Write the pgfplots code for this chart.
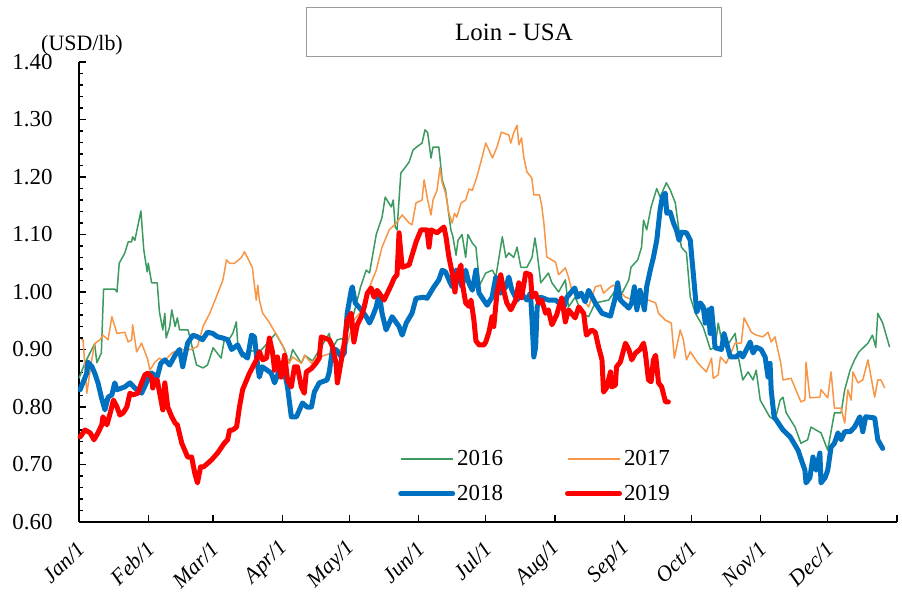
\documentclass[border=0pt]{standalone}
\usepackage{pgfplots}
\pgfplotsset{compat=1.18}
\usepackage{fontspec}
\setmainfont{Liberation Serif}
\definecolor{c16}{RGB}{60,154,96}
\definecolor{c17}{RGB}{247,150,70}
\definecolor{c18}{RGB}{0,112,192}
\definecolor{c19}{RGB}{255,0,0}
\begin{document}
\begin{tikzpicture}
\useasboundingbox (-79bp,-87bp) rectangle (823bp,522bp);
\begin{axis}[
  at={(0,0)}, anchor=south west,
  scale only axis, width=818bp, height=460bp,
  xmin=0, xmax=366, ymin=0.6, ymax=1.4,
  axis x line*=bottom, axis y line*=left,
  axis line style={line width=1.5bp, black},
  xtick={0,31,60,91,121,152,182,213,244,274,305,335,366},
  xticklabels={Jan/1,Feb/1,Mar/1,Apr/1,May/1,Jun/1,Jul/1,Aug/1,Sep/1,Oct/1,Nov/1,Dec/1,},
  ytick={0.6,0.7,0.8,0.9,1.0,1.1,1.2,1.3,1.4},
  yticklabels={0.60,0.70,0.80,0.90,1.00,1.10,1.20,1.30,1.40},
  minor y tick num=4,
  tick align=inside,
  major tick length=7bp, minor tick length=4bp,
  every tick/.style={black, line width=1.2bp},
  yticklabel style={font=\fontsize{23}{26}\selectfont, xshift=-23bp},
  xticklabel style={font=\itshape\fontsize{22}{26}\selectfont, rotate=45, anchor=east, xshift=-11.4bp, yshift=-18bp},
  legend columns=2,
  legend cell align=left,
  legend style={draw=none, fill=none, at={(0.39,0.16)}, anchor=north west,
    font=\fontsize{23}{26}\selectfont, inner sep=0pt, row sep=14bp,
    /tikz/every even column/.append style={column sep=60bp}},
  legend image code/.code={\draw[#1] (0bp,0bp) -- (52bp,0bp);},
  clip=false,
]
\addplot[c16, line width=1.5bp, line join=round] coordinates {
(0,0.850)(2.7,0.877)(7,0.910)(8,0.877)(10,0.894)(11,1.005)(16,1.005)(17,1.000)(18,1.050)(20.5,1.068)(22,1.087)(23.5,1.087)(24,1.096)(25,1.090)(27.7,1.141)(29,1.073)(30.5,1.035)(31,1.050)(32.5,1.016)(35,1.016)(36,0.965)(37.5,0.934)(38.4,0.963)(39,0.920)(40.6,0.940)(41.5,0.969)(43,0.940)(44,0.955)(45,0.934)(48.8,0.934)(52.6,0.873)(55.5,0.868)(57.5,0.873)(60,0.903)(63.6,0.885)(65,0.917)(67,0.917)(68.8,0.928)(70.4,0.948)(71,0.911)(72.7,0.887)(76.3,0.897)(81.6,0.899)(88,0.928)(92,0.900)(94,0.876)(95.6,0.900)(99.5,0.876)(101,0.890)(104.5,0.880)(112,0.928)(113,0.900)(115.6,0.917)(119,0.920)(121,0.940)(123,0.963)(126,1.009)(128.5,1.038)(130,1.033)(133,1.100)(135.6,1.130)(137,1.165)(139.7,1.148)(140.6,1.160)(141.5,1.113)(142.3,1.108)(144,1.207)(146,1.217)(147.7,1.226)(149.5,1.247)(151,1.252)(153.5,1.259)(154.8,1.282)(156,1.277)(157.5,1.233)(158.4,1.252)(161,1.252)(162.5,1.195)(164,1.177)(166.4,1.108)(167.3,1.096)(168.7,1.064)(169.6,1.090)(171.4,1.100)(173,1.060)(174,1.100)(176,1.085)(177.6,1.078)(179.3,1.012)(182,1.033)(185,1.038)(186.5,1.026)(189.4,1.096)(191,1.060)(192.3,1.068)(194.5,1.060)(196,1.078)(197.7,1.043)(200.4,1.043)(202.7,1.060)(204,1.094)(205,1.068)(206.6,1.016)(210,1.033)(211.6,1.016)(214.6,1.000)(217.6,1.021)(219,0.974)(222,0.991)(225,0.963)(228,0.957)(231,0.981)(237,0.986)(240,1.003)(243,0.998)(246,1.021)(247,1.043)(250,1.056)(251.7,1.078)(252.6,1.125)(254,1.108)(256,1.148)(258.5,1.180)(260,1.165)(262.8,1.190)(264.6,1.177)(266.8,1.155)(268,1.120)(269.5,1.078)(271.8,1.068)(273.5,0.991)(275.8,0.963)(279.3,0.939)(280.7,0.922)(282.5,0.900)(284.6,0.904)(286,0.946)(287.5,0.917)(289.6,0.904)(293.6,0.928)(295,0.887)(297,0.847)(299.4,0.861)(301.6,0.847)(303,0.864)(304.8,0.812)(309,0.783)(311.4,0.777)(313.7,0.812)(315,0.817)(316.4,0.790)(320.4,0.765)(323,0.737)(326,0.743)(327.5,0.765)(332,0.755)(335,0.725)(338,0.790)(341,0.790)(342.6,0.830)(345,0.864)(347,0.882)(349,0.896)(353,0.911)(355,0.925)(356.5,0.904)(357.4,0.963)(359.6,0.946)(362.7,0.904)
};
\addlegendentry{2016}
\addplot[c17, line width=1.5bp, line join=round] coordinates {
(1,0.917)(1.8,0.917)(3.5,0.824)(5.7,0.882)(7,0.910)(9.4,0.917)(10.7,0.925)(13,0.917)(14.7,0.957)(17,0.928)(20.5,0.930)(22,0.913)(23.6,0.917)(24,0.943)(25.8,0.896)(28,0.911)(29.5,0.896)(30.8,0.882)(31.7,0.864)(34,0.878)(36,0.885)(38,0.880)(42,0.895)(46,0.900)(50,0.900)(53,0.905)(55.5,0.940)(58.5,0.963)(61.4,0.991)(64.4,1.021)(66,1.056)(67.4,1.050)(69.6,1.050)(72.7,1.060)(74,1.070)(75.5,1.059)(77.6,1.042)(78.5,1.012)(79.3,0.986)(80,1.012)(80.7,0.986)(82.2,0.963)(85,0.948)(88,0.928)(91,0.908)(94,0.876)(95.6,0.887)(99.5,0.876)(101,0.890)(104,0.876)(106,0.885)(110,0.890)(114,0.895)(117,0.900)(120,0.910)(123,0.951)(126,0.965)(128.5,0.974)(130,1.009)(133,1.038)(135.6,1.078)(138.8,1.108)(142,1.120)(144.6,1.134)(147.7,1.120)(149,1.117)(150.8,1.155)(153.5,1.160)(154.4,1.195)(156,1.160)(157.5,1.134)(158.4,1.160)(160.2,1.177)(161.5,1.216)(162.5,1.190)(164,1.172)(165.5,1.137)(167,1.120)(168,1.137)(169,1.130)(171,1.155)(173,1.160)(174.5,1.179)(176,1.177)(178,1.200)(179.8,1.226)(182,1.259)(183.4,1.247)(185,1.233)(187,1.252)(189,1.278)(192.3,1.273)(193.2,1.259)(194.5,1.277)(196,1.290)(196.8,1.256)(198,1.268)(199,1.235)(200.4,1.209)(202.6,1.198)(203.5,1.169)(206,1.169)(207,1.151)(208,1.120)(209.3,1.061)(213.2,1.052)(214.6,1.030)(217.6,1.042)(219,1.026)(220.5,1.003)(223.6,1.000)(228,0.974)(231,1.009)(233.4,1.012)(234.7,0.998)(237.8,1.009)(239.2,1.012)(244.5,0.991)(249,0.985)(254.8,0.986)(258,0.981)(259.3,0.963)(262.4,0.951)(265,0.946)(266.4,0.885)(269,0.934)(270.4,0.917)(271.8,0.882)(273.5,0.896)(277,0.876)(280.7,0.861)(283,0.885)(283.8,0.850)(286,0.856)(287,0.887)(289.6,0.876)(293.6,0.911)(296.3,0.911)(297.6,0.955)(300.8,0.930)(303,0.925)(306,0.922)(308.3,0.930)(309.7,0.913)(311.4,0.922)(314,0.876)(315,0.847)(318.6,0.850)(320.4,0.833)(323,0.809)(324.8,0.812)(325.3,0.878)(327,0.816)(331.5,0.817)(332,0.830)(335,0.816)(336.5,0.861)(338,0.798)(341,0.798)(342.6,0.772)(344,0.830)(345.5,0.812)(346.3,0.861)(348.5,0.842)(350.7,0.847)(353,0.882)(356,0.817)(357.4,0.847)(358.8,0.847)(360.5,0.833)
};
\addlegendentry{2017}
\addplot[c18, line width=5bp, line join=round, line cap=round] coordinates {
(0.5,0.830)(3.5,0.859)(4,0.878)(5.8,0.870)(7,0.859)(8.5,0.842)(10,0.817)(11.6,0.795)(13,0.817)(14.7,0.821)(16,0.842)(17,0.830)(20.5,0.835)(22.8,0.842)(25,0.833)(28,0.824)(30.5,0.845)(32.5,0.859)(35,0.852)(36.6,0.876)(38.4,0.882)(40.6,0.873)(43,0.890)(45,0.900)(46.4,0.870)(48.6,0.911)(51,0.925)(53,0.922)(55.3,0.917)(57.5,0.930)(59.8,0.928)(62,0.922)(64.3,0.920)(66.5,0.917)(68.3,0.900)(71,0.908)(72.7,0.894)(75.4,0.885)(77.2,0.925)(78.5,0.922)(80,0.870)(80.7,0.852)(82,0.870)(86,0.859)(87.5,0.842)(89.7,0.864)(92,0.859)(93.3,0.835)(95,0.783)(97.3,0.783)(100,0.807)(102,0.800)(104,0.800)(105.3,0.826)(107.5,0.842)(111,0.847)(112,0.861)(113.4,0.900)(115,0.900)(117.4,0.887)(118.7,0.894)(120,0.963)(121.8,1.003)(122.3,1.009)(123.6,0.981)(126.3,0.969)(128.5,0.957)(130,0.946)(131.3,0.957)(133,0.974)(134.3,0.998)(135.6,0.963)(137.4,0.934)(140.1,0.957)(143.2,0.940)(144.6,0.925)(146.4,0.946)(149,0.963)(150.8,0.989)(154.4,0.991)(155.7,0.989)(158.8,1.009)(161,1.021)(162.5,1.038)(164,1.035)(165.5,1.021)(167,1.009)(168.7,1.038)(170,1.026)(171.4,1.009)(173,1.038)(174.5,1.015)(176,1.003)(177.6,1.038)(179,0.998)(182.6,0.977)(184.8,0.991)(186.5,1.026)(188.7,0.998)(191,1.009)(192.3,1.026)(193.7,1.003)(196,0.986)(197.7,0.998)(200.4,0.986)(202,0.998)(202.7,0.951)(203.5,0.887)(204.3,0.904)(205,0.974)(206.6,0.991)(210,0.986)(213.2,0.986)(217,0.974)(218.3,0.991)(221.8,1.007)(223,0.991)(224.7,0.998)(226.5,0.983)(228,1.003)(231,0.981)(234,0.963)(237.8,0.958)(240,0.991)(241,1.016)(242.2,0.986)(246,0.972)(247.3,0.981)(248.5,1.009)(249.6,0.969)(251,1.003)(253,0.969)(254,1.009)(255.6,1.038)(257,1.060)(258.5,1.090)(260,1.143)(261,1.165)(262.3,1.172)(263,1.137)(264.5,1.139)(266,1.120)(267.3,1.108)(268.5,1.090)(269.6,1.104)(271.8,1.103)(273.5,1.090)(274,1.068)(275,1.026)(275.8,0.991)(276.4,0.965)(278,0.981)(279.3,0.974)(280.2,0.946)(281.6,0.969)(282.4,0.928)(283,0.972)(284.6,0.903)(287.5,0.900)(288.6,0.928)(291.4,0.887)(294,0.887)(295.8,0.894)(297,0.887)(300.3,0.913)(301.6,0.894)(303,0.904)(305.2,0.900)(307,0.887)(308.3,0.852)(309.2,0.876)(309.7,0.830)(311,0.783)(315,0.760)(318.2,0.748)(321.7,0.725)(324.8,0.690)(325.3,0.668)(327,0.677)(328.4,0.713)(329.8,0.690)(331.5,0.720)(332,0.668)(333.8,0.677)(335,0.690)(336.5,0.730)(338,0.737)(339.6,0.755)(341,0.743)(342.6,0.757)(345,0.757)(347,0.765)(349.4,0.783)(350.7,0.757)(352,0.783)(356,0.781)(357.4,0.743)(359.6,0.728)
};
\addlegendentry{2018}
\addplot[c19, line width=5bp, line join=round, line cap=round] coordinates {
(0.5,0.748)(2.7,0.760)(5,0.755)(6.7,0.743)(8.5,0.755)(10.2,0.769)(10.7,0.783)(12.5,0.769)(14,0.790)(15.4,0.812)(17,0.800)(18.3,0.786)(19.8,0.790)(21.4,0.800)(22.8,0.824)(24,0.821)(26.3,0.824)(28,0.842)(29.5,0.856)(30.8,0.859)(32.5,0.852)(33,0.833)(34,0.847)(35,0.847)(36,0.826)(37.5,0.795)(38.4,0.842)(39.7,0.800)(41.5,0.783)(43,0.772)(44,0.769)(46,0.737)(47.3,0.725)(48.6,0.713)(50.4,0.713)(51.8,0.685)(53,0.668)(54.4,0.696)(55.8,0.696)(59.3,0.708)(62,0.720)(65,0.737)(66.5,0.743)(67.4,0.760)(68.7,0.760)(70.5,0.765)(71.8,0.800)(73.2,0.830)(75,0.847)(76.3,0.859)(79.4,0.882)(80.7,0.896)(82.2,0.882)(83.9,0.885)(85.2,0.920)(86.6,0.895)(87.5,0.864)(88.8,0.887)(90.4,0.852)(92,0.890)(93.3,0.847)(95,0.835)(96.4,0.870)(97.7,0.870)(99.5,0.835)(100.8,0.824)(101.7,0.861)(104,0.867)(106,0.876)(107.5,0.885)(108.4,0.922)(109.8,0.920)(112,0.917)(113.4,0.905)(115,0.876)(115.6,0.842)(117.4,0.882)(118.7,0.911)(120,0.951)(121.8,0.963)(123,0.913)(124.5,0.943)(126.3,0.957)(127.6,0.974)(129,0.998)(130.7,1.007)(132,0.991)(133.4,1.003)(136.5,0.986)(139.7,1.012)(141,1.024)(142.3,1.030)(143.2,1.103)(144.6,1.043)(147.7,1.047)(150.8,1.087)(153,1.108)(155.7,1.108)(156.6,1.078)(157.5,1.108)(160.2,1.103)(163.3,1.113)(164.2,1.096)(165.5,1.061)(167,1.033)(168.2,1.000)(169,1.026)(170.9,1.047)(171.4,1.018)(173,0.981)(174.5,0.975)(175.4,0.986)(176.7,0.951)(177.6,0.915)(179,0.908)(181.2,0.908)(182,0.913)(183.4,0.930)(184.8,0.957)(185.6,0.940)(187,0.998)(188.7,1.030)(190,1.003)(191.4,0.981)(193.2,0.969)(195.4,0.986)(196.8,1.016)(198,0.990)(199.9,1.033)(202,1.030)(202.7,0.991)(204.3,0.998)(205.7,0.981)(207,0.986)(208.8,0.963)(210,0.969)(211.6,0.943)(213.7,0.960)(216,0.990)(217.6,0.948)(219,0.969)(222,0.955)(223.6,0.974)(225.8,0.963)(227,0.925)(229.4,0.934)(231,0.930)(232.5,0.904)(234,0.882)(234.7,0.826)(236,0.833)(237.8,0.861)(238.3,0.835)(240,0.838)(240.5,0.870)(242.2,0.878)(244.5,0.911)(246,0.900)(247.3,0.882)(249,0.894)(251,0.900)(252.6,0.911)(253.4,0.894)(254.8,0.847)(256,0.844)(257,0.882)(258,0.890)(259.3,0.842)(260.7,0.835)(262.4,0.809)(263.7,0.809)
};
\addlegendentry{2019}
\end{axis}
\node[font=\fontsize{22}{26}\selectfont] at (3bp,477bp) {(USD/lb)};
\node[draw=black!40, line width=1.5bp, fill=white, minimum width=415bp, minimum height=49bp, font=\fontsize{25}{28}\selectfont] at (435bp,490bp) {Loin - USA};
\end{tikzpicture}
\end{document}
